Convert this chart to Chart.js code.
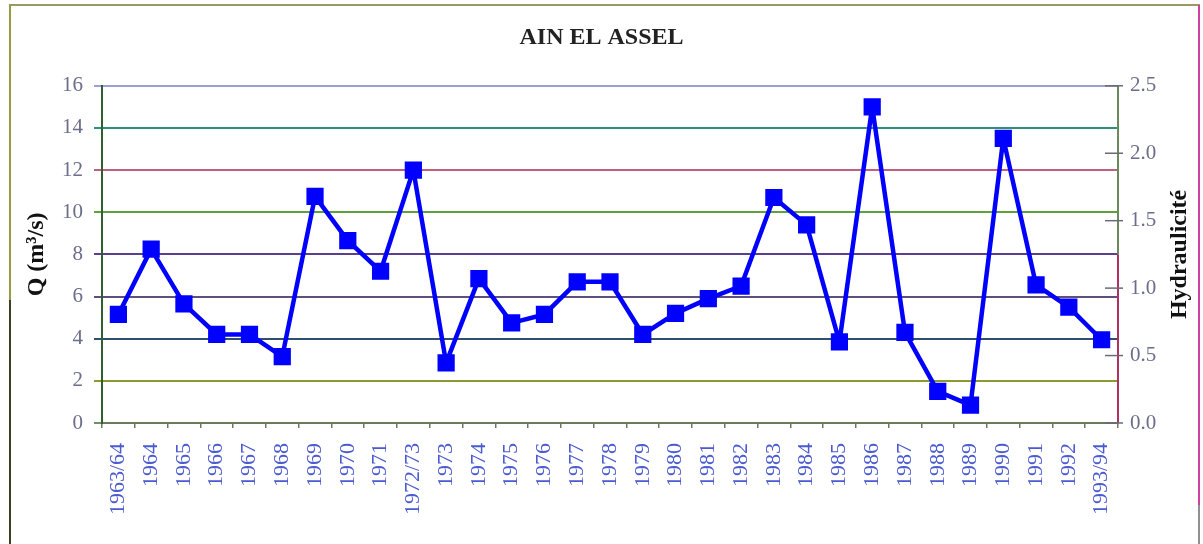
<!DOCTYPE html>
<html>
<head>
<meta charset="utf-8">
<script src="https://cdn.jsdelivr.net/npm/chart.js"></script>
<style>
  html, body { margin: 0; padding: 0; background: #fff; }
  #wrap { width: 1203px; height: 544px; }
</style>
</head>
<body>
<div id="wrap"><canvas id="myChart" width="1203" height="544"></canvas></div>
<script>
// données
const years = ['1963/64', '1964', '1965', '1966', '1967', '1968', '1969', '1970', '1971', '1972/73',
    '1973', '1974', '1975', '1976', '1977', '1978', '1979', '1980', '1981', '1982',
    '1983', '1984', '1985', '1986', '1987', '1988', '1989', '1990', '1991', '1992', '1993/94'];
const debit = [5.15, 8.25, 5.65, 4.2, 4.2, 3.15, 10.75, 8.65, 7.2, 12.0,
    2.85, 6.85, 4.75, 5.15, 6.7, 6.7, 4.2, 5.2, 5.9, 6.5,
    10.7, 9.4, 3.85, 15.0, 4.3, 1.5, 0.85, 13.5, 6.55, 5.5, 3.95];
const hydraTicks = [0, 0.5, 1.0, 1.5, 2.0, 2.5];

// couleurs des lignes de grille, de 0 à 16
const gridColors = ['#6f8f6f', '#8c9a30', '#2f4f6f', '#5f4f7f', '#5a3f8f',
    '#5fa03f', '#c0607f', '#2f8f7f', '#9f9fcf'];

const serif = '"Liberation Serif", "DejaVu Serif", serif';

// cadre, axe droit et titre "Hydraulicité"
const decorPlugin = {
    id: 'decor',
    beforeDraw(chart) {
        const ctx = chart.ctx;
        ctx.save();
        ctx.lineWidth = 2;
        ctx.strokeStyle = '#9a9a60';
        ctx.beginPath(); ctx.moveTo(9, 5); ctx.lineTo(1200, 5); ctx.stroke();
        ctx.strokeStyle = '#9a9a40';
        ctx.beginPath(); ctx.moveTo(10, 5); ctx.lineTo(10, 300); ctx.stroke();
        ctx.strokeStyle = '#404020';
        ctx.beginPath(); ctx.moveTo(10, 300); ctx.lineTo(10, 544); ctx.stroke();
        ctx.strokeStyle = '#d040a0';
        ctx.beginPath(); ctx.moveTo(1199, 5); ctx.lineTo(1199, 505); ctx.stroke();
        ctx.strokeStyle = '#909090';
        ctx.beginPath(); ctx.moveTo(1199, 505); ctx.lineTo(1199, 544); ctx.stroke();
        ctx.restore();
    },
    afterDraw(chart) {
        const ctx = chart.ctx;
        const ys = chart.scales.y2;
        const x = ys.left;
        const area = chart.chartArea;
        const mid = (area.top + area.bottom) / 2;
        ctx.save();
        ctx.lineWidth = 2;
        ctx.strokeStyle = '#6a8a5a';
        ctx.beginPath(); ctx.moveTo(x, area.top); ctx.lineTo(x, mid); ctx.stroke();
        ctx.strokeStyle = '#b03060';
        ctx.beginPath(); ctx.moveTo(x, mid); ctx.lineTo(x, area.bottom); ctx.stroke();
        ctx.strokeStyle = '#6a6a7a';
        ctx.lineWidth = 1.5;
        hydraTicks.forEach((v) => {
            const y = ys.getPixelForValue(v);
            ctx.beginPath(); ctx.moveTo(x - 13, y); ctx.lineTo(x + 5, y); ctx.stroke();
        });
        ctx.translate(1180, mid);
        ctx.rotate(-Math.PI / 2);
        ctx.font = 'bold 24px ' + serif;
        ctx.fillStyle = '#111';
        ctx.textAlign = 'center';
        ctx.textBaseline = 'middle';
        ctx.fillText('Hydraulicité', 0, 0);
        ctx.restore();
    },
};

const ctx = document.getElementById('myChart').getContext('2d');
new Chart(ctx, {
    type: 'line',
    data: {
        labels: years,
        datasets: [{
            label: 'Q',
            data: debit,
            borderColor: '#0000ff',
            backgroundColor: '#0000ff',
            borderWidth: 4.5,
            borderJoinStyle: 'round',
            pointStyle: 'rect',
            pointRadius: 9,
            pointHoverRadius: 9,
            tension: 0,
            yAxisID: 'y',
        }],
    },
    options: {
        responsive: false,
        animation: false,
        layout: { padding: 0 },
        plugins: {
            legend: { display: false },
            tooltip: { enabled: false },
            title: {
                display: true,
                text: 'AIN EL ASSEL',
                color: '#222',
                font: { family: serif, size: 24, weight: 'bold' },
                padding: { top: 23, bottom: 34 },
            },
        },
        scales: {
            x: {
                offset: true,
                grid: {
                    offset: true,
                    drawOnChartArea: false,
                    tickLength: 5,
                    color: '#6a7a5a',
                    lineWidth: 1.5,
                },
                border: { color: '#6a7a5a', width: 2 },
                ticks: {
                    autoSkip: false,
                    maxRotation: 90,
                    minRotation: 90,
                    padding: 15,
                    color: '#4a5ad0',
                    font: { family: serif, size: 22 },
                },
                afterFit: (scale) => { scale.height = 121; },
            },
            y: {
                position: 'left',
                min: 0,
                max: 16,
                ticks: {
                    stepSize: 2,
                    padding: 11,
                    color: '#6c6c8c',
                    font: { family: serif, size: 21 },
                },
                grid: {
                    tickLength: 8,
                    lineWidth: 2,
                    color: (c) => gridColors[c.index] || '#888',
                },
                border: { color: '#2f5f2f', width: 2 },
                title: {
                    display: true,
                    text: 'Q (m³/s)',
                    color: '#111',
                    font: { family: serif, size: 24, weight: 'bold' },
                    padding: { top: 22, bottom: 0 },
                },
                afterFit: (scale) => { scale.width = 102; },
            },
            y2: {
                position: 'right',
                min: 0,
                max: 2.5,
                afterBuildTicks: (scale) => {
                    scale.ticks = hydraTicks.map((v) => ({ value: v }));
                },
                ticks: {
                    padding: 12,
                    color: '#6c6c8c',
                    font: { family: serif, size: 21 },
                    callback: (v) => Number(v).toFixed(1),
                },
                grid: { display: false, drawTicks: false },
                border: { display: false },
                afterFit: (scale) => { scale.width = 85; },
            },
        },
    },
    plugins: [decorPlugin],
});
</script>
</body>
</html>
